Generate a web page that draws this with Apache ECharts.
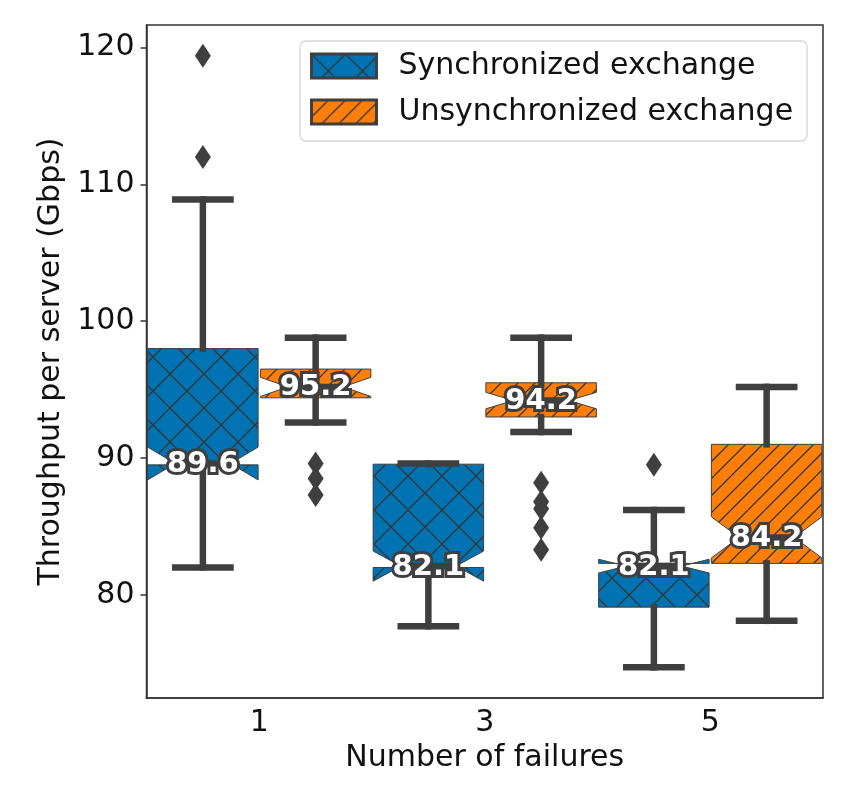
<!DOCTYPE html>
<html>
<head>
<meta charset="utf-8">
<script src="https://cdn.jsdelivr.net/npm/echarts@6.0.0/dist/echarts.min.js"></script>
<style>
  html, body { margin: 0; padding: 0; background: #fff; }
  #main { width: 852px; height: 786px; }
</style>
</head>
<body>
<div id="main"></div>
<script>
// categories on the x axis (number of failures)
var categories = ['1', '3', '5'];
var yTicks = [80, 90, 100, 110, 120];

// box stats per category:
// [lower whisker, q1, notch low, median, notch high, q3, upper whisker]
var syncStats = [
    [82.0, 89.5, 88.4, 89.6, 90.8, 98.0, 108.9],
    [77.7, 82.0, 81.0, 82.1, 83.2, 89.55, 89.6],
    [74.7, 79.1, 81.6, 82.1, 82.6, 82.3, 86.2]
];
var unsyncStats = [
    [92.6, 94.4, 94.5, 95.2, 95.9, 96.5, 98.8],
    [91.9, 93.0, 93.6, 94.2, 94.8, 95.5, 98.8],
    [78.1, 82.3, 82.7, 84.2, 85.7, 91.0, 95.2]
];

// outliers: [category index, value]
var syncFliers = [[0, 119.4], [0, 112.0], [2, 89.5]];
var unsyncFliers = [[0, 89.6], [0, 88.5], [0, 87.3],
    [1, 88.2], [1, 86.8], [1, 86.3], [1, 84.9], [1, 83.3]];

var GRAY = '#3f3f3f';
var FONT = '"DejaVu Sans", sans-serif';

// matplotlib-like hatch tiles
function hatchTile(base, kind) {
    var P = 34;
    var c = document.createElement('canvas');
    c.width = P; c.height = P;
    var g = c.getContext('2d');
    g.fillStyle = base;
    g.fillRect(0, 0, P, P);
    g.strokeStyle = '#353535';
    g.lineWidth = 1.3;
    g.beginPath();
    var shifts = kind === 'x' ? [0] : [0, P / 2];
    for (var k = -1; k <= 1; k++) {
        shifts.forEach(function (s) {
            var x0 = k * P + s;
            g.moveTo(x0, P); g.lineTo(x0 + P, 0);
        });
        if (kind === 'x') {
            g.moveTo(k * P, 0); g.lineTo(k * P + P, P);
        }
    }
    g.stroke();
    return { image: c, repeat: 'repeat' };
}

var blueFill = hatchTile('#0173b2', 'x');
var orangeFill = hatchTile('#fd7f0a', '//');

function boxRenderer(offset, fill) {
    return function (params, api) {
        var cat = api.value(0);
        var band = api.size([1, 0])[0];
        var cx = api.coord([cat, 0])[0] + offset * band;
        var hw = band * 0.49 / 2;
        var L = cx - hw, R = cx + hw, Li = cx - hw / 2, Ri = cx + hw / 2;
        function y(i) { return api.coord([cat, api.value(i)])[1]; }
        var lo = y(1), q1 = y(2), nlo = y(3), med = y(4), nhi = y(5), q3 = y(6), hi = y(7);
        var lineStyle = { stroke: GRAY, lineWidth: 6.5, lineCap: 'square' };
        function seg(x1, y1, x2, y2) {
            return { type: 'line', shape: { x1: x1, y1: y1, x2: x2, y2: y2 }, style: lineStyle };
        }
        return {
            type: 'group',
            children: [
                {
                    type: 'polygon',
                    shape: { points: [[L, q1], [R, q1], [R, nlo], [Ri, med], [R, nhi], [R, q3],
                        [L, q3], [L, nhi], [Li, med], [L, nlo]] },
                    style: { fill: fill, stroke: GRAY, lineWidth: 1 }
                },
                seg(cx, q1, cx, lo),
                seg(cx, q3, cx, hi),
                seg(cx - hw / 2, lo, cx + hw / 2, lo),
                seg(cx - hw / 2, hi, cx + hw / 2, hi),
                seg(Li, med, Ri, med),
                {
                    type: 'text',
                    z2: 100,
                    style: {
                        text: api.value(4).toFixed(1),
                        x: cx, y: med + 1,
                        fill: '#ffffff', stroke: GRAY, lineWidth: 6, strokeFirst: true,
                        font: 'bold 29px ' + FONT,
                        align: 'center', verticalAlign: 'middle'
                    }
                }
            ]
        };
    };
}

function flierRenderer(offset) {
    return function (params, api) {
        var band = api.size([1, 0])[0];
        var p = api.coord([api.value(0), api.value(1)]);
        var cx = p[0] + offset * band, cy = p[1];
        return {
            type: 'polygon',
            shape: { points: [[cx, cy - 12], [cx + 8, cy], [cx, cy + 12], [cx - 8, cy]] },
            style: { fill: GRAY }
        };
    };
}

function boxData(stats) {
    return stats.map(function (s, i) { return [i].concat(s); });
}

var myChart = echarts.init(document.getElementById('main'));
var option = {
    animation: false,
    grid: {
        left: 146.5, right: 29, top: 25, bottom: 88,
        show: true, borderColor: '#333', borderWidth: 1.5
    },
    legend: {
        orient: 'vertical',
        left: 300, top: 41,
        padding: [10, 14, 14, 10],
        itemWidth: 65, itemHeight: 24, itemGap: 16,
        backgroundColor: '#ffffff',
        borderColor: '#d6d6d6', borderWidth: 1.3, borderRadius: 6,
        selectedMode: false,
        textStyle: { fontSize: 30, fontFamily: FONT, color: '#111', padding: [0, 0, 0, 17] },
        data: [
            { name: 'Synchronized exchange', icon: 'rect',
              itemStyle: { color: blueFill, borderColor: GRAY, borderWidth: 3 } },
            { name: 'Unsynchronized exchange', icon: 'rect',
              itemStyle: { color: orangeFill, borderColor: GRAY, borderWidth: 3 } }
        ]
    },
    xAxis: {
        type: 'category',
        data: categories,
        boundaryGap: true,
        name: 'Number of failures',
        nameLocation: 'middle',
        nameGap: 45,
        nameTextStyle: { fontSize: 30, fontFamily: FONT, color: '#111' },
        axisLine: { lineStyle: { color: '#333', width: 1.5 } },
        axisTick: { alignWithLabel: true, length: 6, lineStyle: { color: '#333', width: 1.5 } },
        axisLabel: { fontSize: 30, fontFamily: FONT, color: '#111', margin: 10 },
        splitLine: { show: false }
    },
    yAxis: {
        type: 'value',
        min: 72.46, max: 121.65,
        name: 'Throughput per server (Gbps)',
        nameLocation: 'middle',
        nameGap: 80,
        nameTextStyle: { fontSize: 30, fontFamily: FONT, color: '#111' },
        axisLine: { show: true, lineStyle: { color: '#333', width: 1.5 } },
        axisTick: { show: true, length: 6, customValues: yTicks, lineStyle: { color: '#333', width: 1.5 } },
        axisLabel: { fontSize: 30, fontFamily: FONT, color: '#111', margin: 12, customValues: yTicks },
        splitLine: { show: false }
    },
    series: [
        {
            name: 'Synchronized exchange',
            type: 'custom',
            itemStyle: { color: blueFill },
            encode: { x: 0, y: [1, 2, 3, 4, 5, 6, 7] },
            renderItem: boxRenderer(-0.25, blueFill),
            data: boxData(syncStats)
        },
        {
            name: 'Unsynchronized exchange',
            type: 'custom',
            itemStyle: { color: orangeFill },
            encode: { x: 0, y: [1, 2, 3, 4, 5, 6, 7] },
            renderItem: boxRenderer(0.25, orangeFill),
            data: boxData(unsyncStats)
        },
        {
            type: 'custom',
            encode: { x: 0, y: 1 },
            renderItem: flierRenderer(-0.25),
            data: syncFliers
        },
        {
            type: 'custom',
            encode: { x: 0, y: 1 },
            renderItem: flierRenderer(0.25),
            data: unsyncFliers
        }
    ]
};
myChart.setOption(option);
</script>
</body>
</html>
